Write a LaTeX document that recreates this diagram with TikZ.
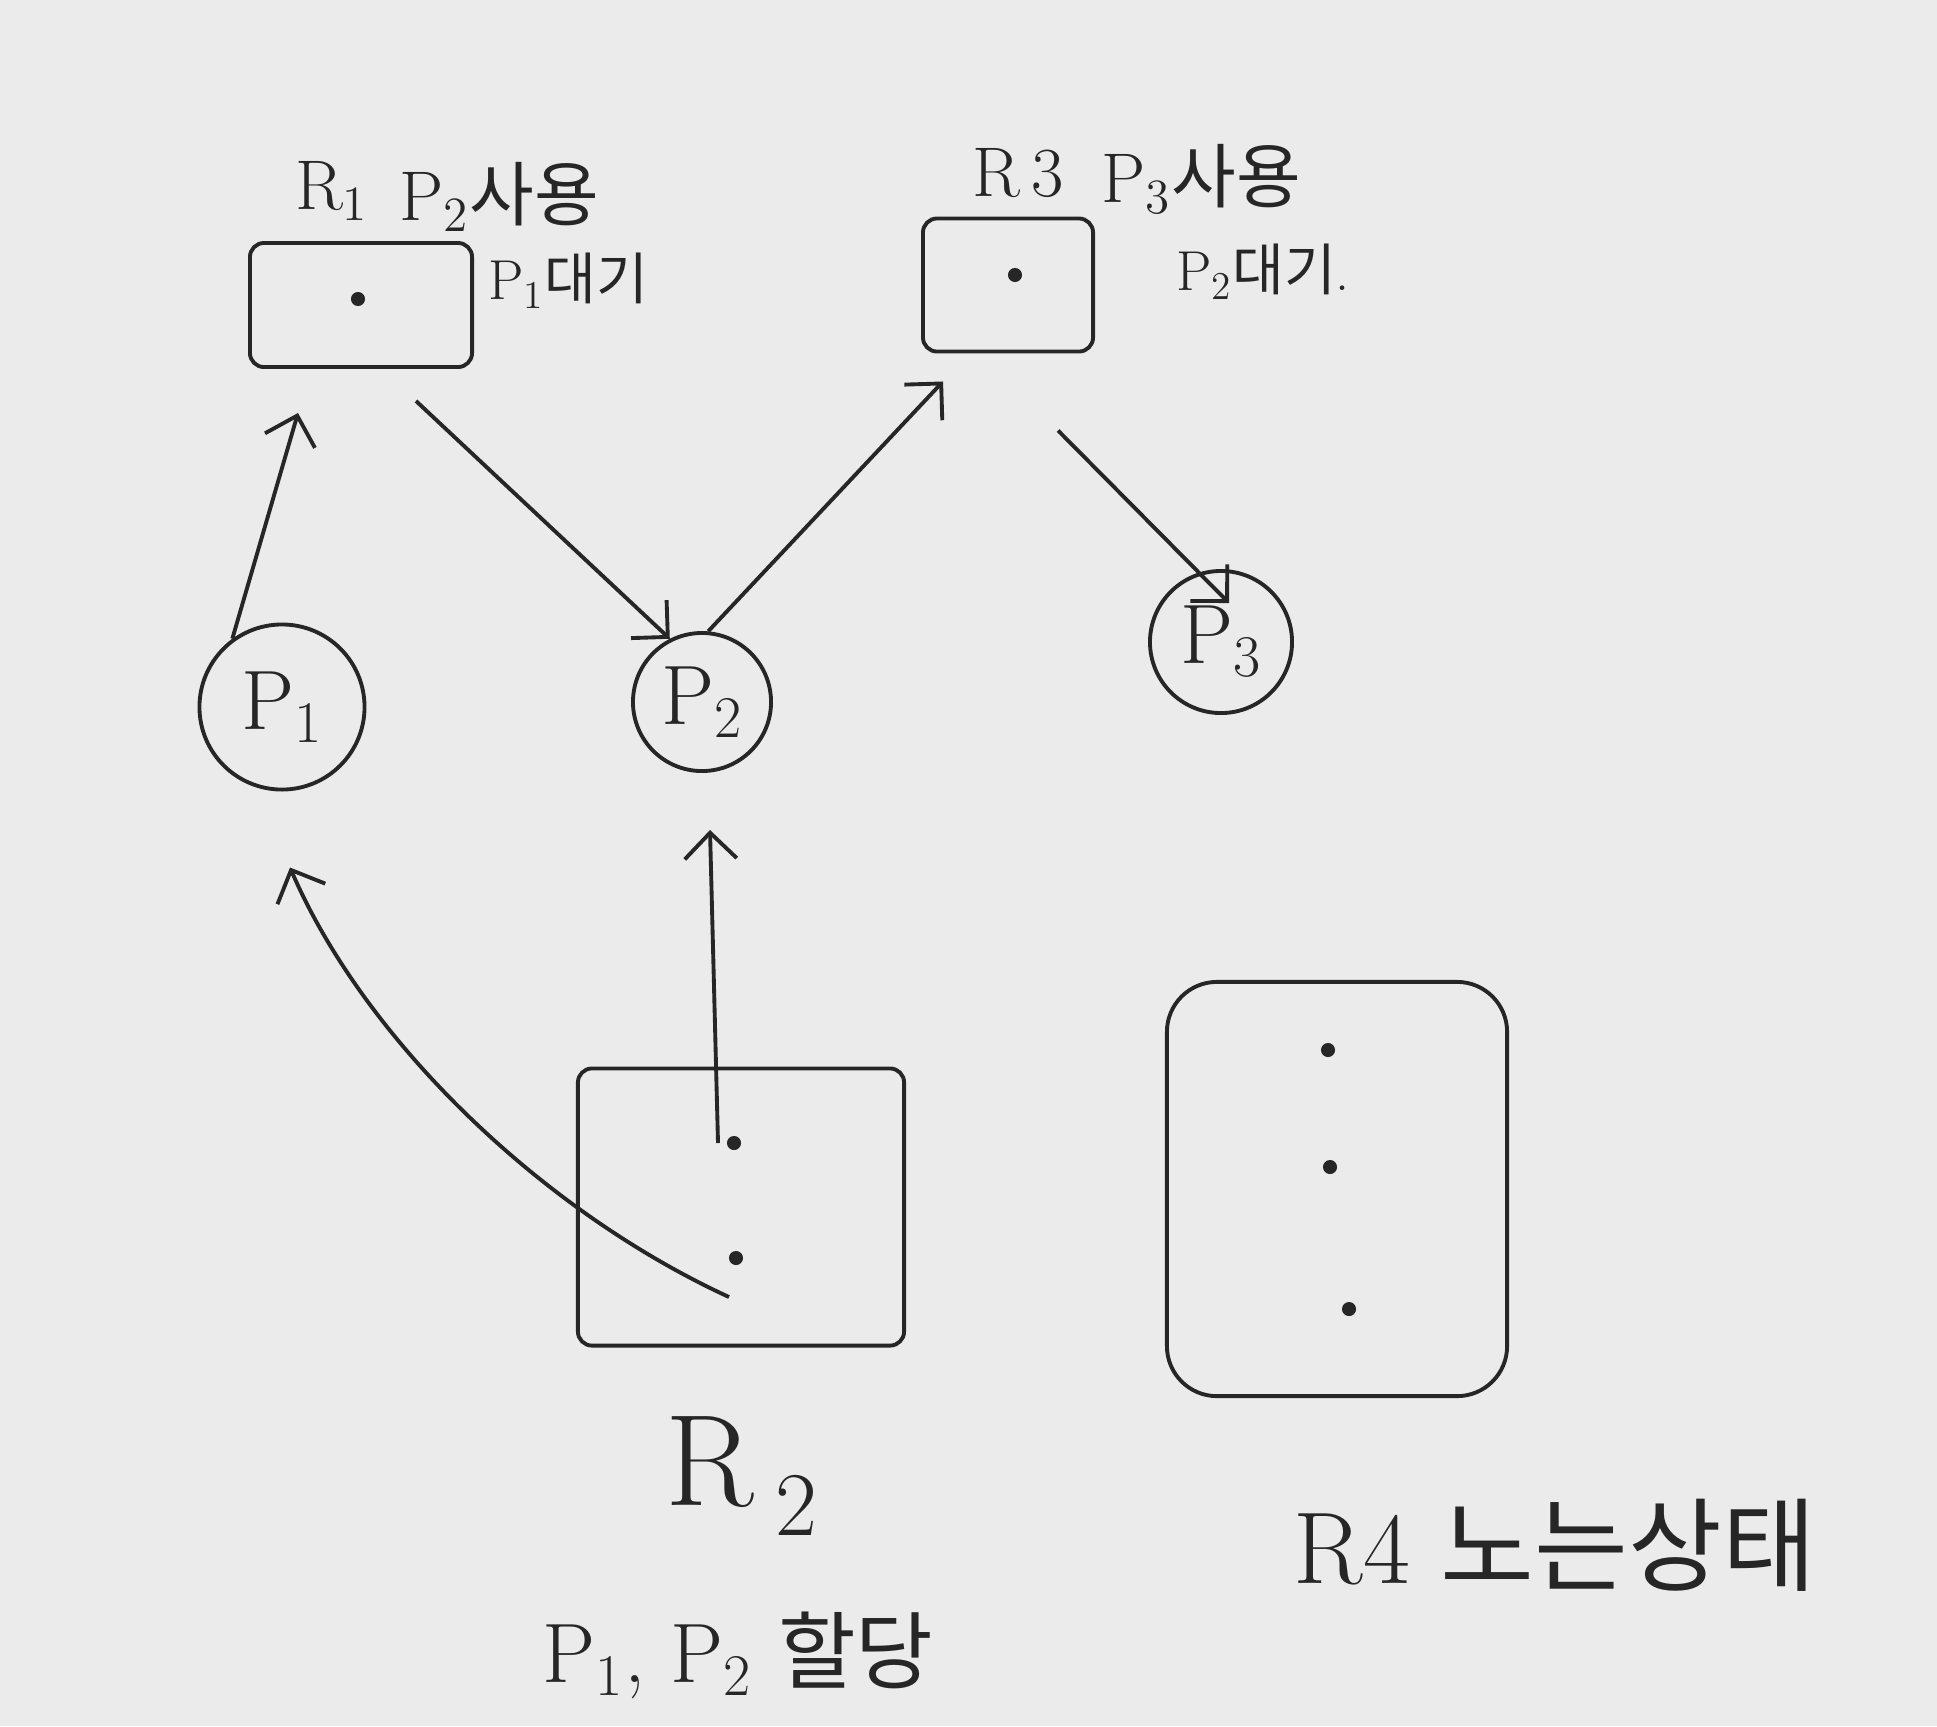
\documentclass[tikz,border=0pt]{standalone}
\usepackage{fontspec}
\usepackage{tikz}
\usetikzlibrary{arrows.meta,calc}
\newfontfamily\kr{Noto Sans CJK KR}

\begin{document}
\begin{tikzpicture}[x=0.01cm, y=-0.01cm, line width=1.1pt, color=black!85,
    res/.style={draw, rounded corners=4pt, inner sep=0pt},
    proc/.style={draw, circle, inner sep=0pt, font=\fontsize{24}{28}\selectfont},
    dotn/.style={circle, fill, inner sep=0pt, minimum size=4pt},
    arr/.style={-{Straight Barb[length=2.6mm, width=5.2mm]}},
    lbl/.style={inner sep=0pt, font=\fontsize{#1}{#1}\selectfont}]

    % paper
    \fill[black!8] (0,0) rectangle (1937,1726);

    % resources
    \node[res, minimum width=2.22cm, minimum height=1.24cm] (r1) at (361,305) {};
    \node[res, minimum width=1.70cm, minimum height=1.33cm] (r3) at (1008,285) {};
    \node[res, minimum width=3.26cm, minimum height=2.77cm] (r2) at (741,1207) {};
    \node[res, rounded corners=0.5cm, minimum width=3.40cm, minimum height=4.14cm] (r4) at (1337,1189) {};

    \node[dotn] (r1a) at (358,299) {};
    \node[dotn] (r3a) at (1015,275) {};
    \node[dotn] (r2a) at (734,1143) {};
    \node[dotn] (r2b) at (736,1258) {};
    \foreach \x/\y/\i in {1328/1050/a, 1330/1167/b, 1349/1309/c} {
        \node[dotn] (r4\i) at (\x,\y) {};
    }

    % processes
    \node[proc, minimum size=1.65cm] (p1) at (282,707) {P\textsubscript{1}};
    \node[proc, minimum size=1.38cm] (p2) at (702,702) {P\textsubscript{2}};
    \node[proc, minimum size=1.42cm] (p3) at (1221,642) {P\textsubscript{3}};

    % labels
    \node[lbl=20] (r1n) at (332,191) {R\textsubscript{1}};
    \node[lbl=20] (r1u) at (499,197) {P\textsubscript{2}{\kr 사용}};
    \node[lbl=16] (r1w) at (568,281) {P\textsubscript{1}{\kr 대기}};
    \node[lbl=20] (r3n) at (1018,173) {R\,3};
    \node[lbl=20] (r3u) at (1201,179) {P\textsubscript{3}{\kr 사용}};
    \node[lbl=16] (r3w) at (1263,272) {P\textsubscript{2}{\kr 대기}.};
    \node[lbl=37] (r2n) at (742,1476) {R\,\textsubscript{2}};
    \node[lbl=24] (r2u) at (738,1655) {P\textsubscript{1}, P\textsubscript{2} {\kr 할당}};
    \node[lbl=29] (r4n) at (1555,1545) {R4 {\kr 노는상태}};

    % edges
    \draw[arr] (p1.126) -- ($(r1.south west)+(50,44)$);
    \draw[arr] ($(r1.south west)+(168,32)$) -- (p2.117);
    \draw[arr] (p2.85) -- ($(r3.south west)+(22,28)$);
    \draw[arr] ($(r3.south west)+(137,77)$) -- ($(p3.north)+(8,34)$);
    \draw[arr] ($(r2a)+(-16,0)$) -- ($(p2.south)+(8,57)$);
    \draw[arr] ($(r2b)+(-7,39)$) .. controls (538,1209) and (363,1037) .. ($(p1.south)+(8,76)$);
\end{tikzpicture}
\end{document}
